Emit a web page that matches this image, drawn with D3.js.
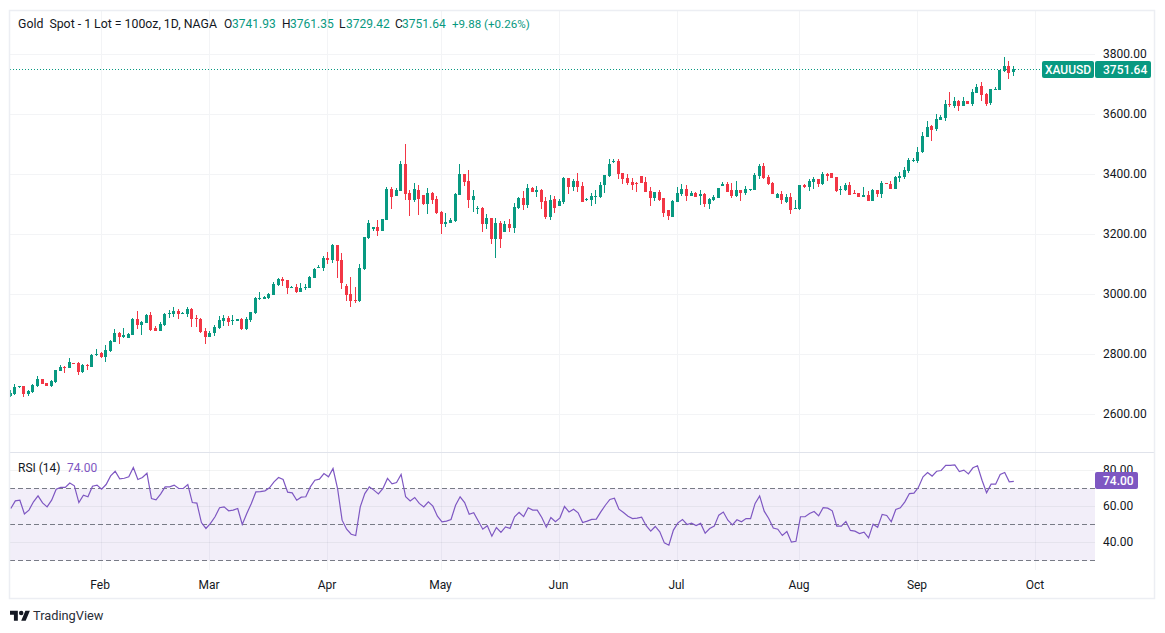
<!DOCTYPE html>
<html>
<head>
<meta charset="utf-8">
<style>
  html, body { margin: 0; padding: 0; background: #fff; }
  svg { display: block; }
  text { font-family: Roboto, sans-serif; }
  .domain { display: none; }
</style>
</head>
<body>
<svg id="chart" width="1165" height="633"></svg>
<script src="https://cdn.jsdelivr.net/npm/d3@7"></script>
<script>
"use strict";

// daily candles, one row per ten bars
var opens = [
  2660,2666,2690,2693,2666,2673,2693,2717,2703,2693,
  2706,2743,2758,2753,2770,2770,2740,2763,2757,2797,
  2803,2790,2810,2840,2870,2857,2853,2863,2917,2897,
  2903,2930,2887,2877,2897,2934,2934,2944,2934,2934,
  2950,2920,2917,2877,2857,2870,2887,2910,2920,2910,
  2910,2917,2883,2913,2937,2984,2984,2987,2997,3030,
  3050,3047,3020,3024,3007,3020,3020,3054,3087,3087,
  3121,3114,3164,3114,3027,3000,2980,2977,3084,3187,
  3217,3224,3211,3247,3351,3328,3344,3434,3338,3314,
  3348,3331,3301,3338,3318,3274,3234,3237,3244,3331,
  3401,3378,3314,3284,3288,3234,3254,3184,3237,3207,
  3234,3221,3288,3321,3298,3354,3341,3348,3311,3257,
  3317,3294,3307,3388,3358,3378,3361,3314,3314,3324,
  3324,3364,3394,3441,3444,3404,3388,3374,3371,3394,
  3374,3344,3321,3341,3321,3281,3257,3307,3334,3351,
  3327,3338,3327,3334,3301,3314,3321,3361,3368,3348,
  3327,3348,3338,3348,3348,3394,3428,3391,3371,3321,
  3334,3307,3324,3284,3284,3364,3358,3374,3384,3368,
  3401,3404,3391,3348,3348,3364,3338,3338,3324,3331,
  3311,3348,3334,3371,3368,3351,3388,3391,3411,3444,
  3444,3474,3524,3561,3551,3581,3588,3635,3628,3645,
  3628,3645,3635,3671,3695,3668,3638,3681,3681,3745,3762,3741.93
];
var highs = [
  2680,2699,2693,2693,2680,2700,2726,2717,2703,2713,
  2747,2763,2760,2787,2770,2773,2767,2767,2799,2817,
  2807,2830,2847,2883,2873,2887,2870,2922,2944,2910,
  2934,2940,2893,2907,2937,2947,2957,2950,2940,2957,
  2954,2930,2920,2887,2877,2897,2927,2930,2927,2930,
  2917,2920,2924,2940,2990,3007,2994,3004,3040,3054,
  3057,3047,3027,3034,3037,3034,3060,3087,3097,3127,
  3141,3167,3164,3137,3034,3057,3024,3101,3191,3247,
  3224,3247,3251,3358,3358,3354,3444,3501,3348,3371,
  3364,3331,3354,3341,3328,3278,3271,3254,3338,3434,
  3401,3414,3348,3294,3291,3267,3254,3254,3244,3244,
  3251,3304,3324,3344,3368,3358,3361,3351,3324,3331,
  3328,3317,3391,3388,3384,3404,3374,3321,3338,3348,
  3374,3398,3451,3451,3451,3404,3401,3388,3374,3394,
  3391,3358,3341,3348,3321,3281,3314,3358,3368,3364,
  3344,3341,3348,3338,3321,3331,3354,3374,3374,3371,
  3378,3348,3361,3351,3404,3434,3438,3398,3374,3338,
  3344,3334,3338,3314,3364,3368,3384,3391,3384,3408,
  3404,3404,3391,3361,3371,3374,3348,3338,3358,3344,
  3351,3348,3378,3371,3378,3394,3408,3424,3454,3454,
  3491,3541,3578,3565,3601,3598,3648,3675,3658,3648,
  3658,3645,3685,3701,3708,3671,3685,3691,3748,3792,3778,3761.35
];
var lows = [
  2657,2663,2686,2657,2661,2671,2691,2700,2693,2690,
  2703,2743,2737,2753,2767,2730,2737,2747,2757,2793,
  2787,2773,2807,2840,2833,2853,2853,2863,2883,2863,
  2903,2877,2877,2877,2893,2920,2924,2917,2934,2924,
  2890,2890,2870,2833,2857,2860,2883,2893,2893,2897,
  2910,2880,2880,2907,2934,2980,2984,2984,2997,3027,
  3027,3000,3020,3004,3007,3014,3020,3054,3087,3077,
  3101,3104,3054,3017,2977,2957,2970,2974,3081,3184,
  3211,3194,3211,3247,3284,3328,3344,3314,3261,3308,
  3264,3298,3267,3301,3267,3201,3224,3237,3241,3331,
  3361,3288,3274,3267,3207,3217,3167,3121,3154,3207,
  3207,3204,3284,3281,3288,3341,3324,3284,3251,3247,
  3271,3294,3301,3334,3344,3341,3307,3311,3294,3301,
  3321,3338,3391,3438,3384,3368,3364,3348,3341,3371,
  3341,3294,3311,3311,3257,3247,3257,3307,3327,3311,
  3327,3324,3297,3291,3284,3311,3321,3361,3341,3321,
  3324,3311,3331,3344,3348,3384,3384,3364,3334,3321,
  3301,3304,3267,3284,3281,3354,3344,3351,3358,3364,
  3378,3388,3341,3331,3344,3331,3334,3324,3324,3311,
  3311,3324,3321,3368,3351,3351,3374,3384,3404,3441,
  3438,3471,3524,3511,3545,3581,3578,3625,3621,3611,
  3628,3635,3628,3671,3645,3628,3631,3681,3681,3742,3718,3729.42
];
var closes = [
  2671,2690,2693,2666,2676,2696,2717,2700,2693,2710,
  2747,2757,2755,2773,2767,2740,2763,2761,2797,2800,
  2790,2813,2843,2870,2857,2863,2867,2917,2897,2907,
  2930,2880,2877,2900,2934,2937,2944,2934,2937,2950,
  2917,2917,2873,2857,2870,2890,2913,2920,2907,2913,
  2917,2883,2917,2940,2987,2987,2990,3000,3034,3050,
  3044,3020,3024,3007,3020,3024,3057,3084,3091,3121,
  3114,3164,3111,3037,2997,2977,2977,3087,3191,3237,
  3224,3211,3251,3351,3324,3348,3434,3334,3314,3351,
  3318,3301,3338,3314,3271,3234,3241,3247,3334,3401,
  3374,3314,3328,3288,3234,3254,3184,3237,3184,3234,
  3221,3291,3321,3298,3354,3341,3348,3308,3257,3314,
  3287,3311,3388,3358,3378,3358,3307,3317,3327,3327,
  3364,3398,3434,3444,3401,3384,3371,3364,3368,3371,
  3341,3321,3341,3314,3271,3261,3311,3338,3351,3327,
  3338,3324,3334,3301,3317,3324,3354,3368,3341,3327,
  3348,3338,3351,3351,3398,3428,3388,3368,3334,3334,
  3314,3324,3281,3287,3364,3358,3378,3384,3368,3401,
  3394,3388,3344,3351,3364,3331,3334,3324,3331,3311,
  3348,3334,3371,3368,3351,3391,3394,3414,3448,3448,
  3474,3528,3558,3548,3585,3591,3635,3631,3645,3628,
  3645,3635,3675,3691,3665,3635,3685,3685,3748,3762,3738,3751.64
];

var rsiValues = [
  58.9,63.1,63.5,55.9,58.0,62.6,65.9,62.0,59.8,63.5,
  69.6,70.6,70.6,73.0,71.5,62.2,66.3,65.4,71.3,71.9,
  69.6,72.2,77.0,79.6,75.4,75.7,76.5,81.7,75.0,76.1,
  78.5,64.4,63.7,66.9,70.9,70.9,71.9,70.0,70.0,72.2,
  62.2,61.9,51.1,47.8,50.6,54.3,59.3,59.8,57.6,58.0,
  58.9,50.0,56.1,61.7,68.1,68.3,68.7,70.4,73.7,76.1,
  75.0,68.0,67.6,63.5,65.2,65.4,70.9,74.6,75.2,78.3,
  76.5,81.1,70.0,52.4,47.4,44.6,43.9,59.8,67.2,70.9,
  69.1,67.0,70.0,75.6,72.6,73.3,77.8,
  65.4,63.1,65.0,61.7,59.8,62.6,60.2,54.6,51.5,51.9,
  52.8,60.7,65.4,62.2,55.7,56.5,51.9,47.4,49.3,43.5,
  48.3,45.6,48.7,47.8,54.3,56.7,54.4,59.3,58.0,58.0,
  53.9,48.5,53.9,51.5,53.7,60.0,57.0,58.5,56.5,51.1,
  51.9,52.8,53.0,57.0,60.7,63.9,64.6,58.5,56.7,54.6,
  53.3,53.5,54.1,49.3,46.3,48.9,45.9,39.8,38.5,46.9,
  50.9,52.8,50.0,50.7,49.4,50.6,45.2,47.8,49.1,55.2,
  56.9,52.4,49.8,52.6,51.5,53.3,53.3,61.7,65.9,57.4,
  53.3,48.0,47.4,43.9,46.1,40.2,40.7,54.3,
  54.3,56.1,57.2,54.8,59.4,59.1,57.6,49.1,49.1,51.7,
  46.7,46.3,45.0,45.7,42.6,50.2,48.5,55.6,55.0,51.5,
  58.3,59.3,62.6,67.2,67.4,70.7,76.5,78.9,76.9,79.6,
  80.0,82.8,82.8,83.1,79.4,80.2,78.1,81.5,82.6,74.6,
  67.6,72.4,72.4,77.8,78.9,73.7,74.0
];

var priceTicks = [2600, 2800, 3000, 3200, 3400, 3600, 3800];
var rsiTicks = [40, 60, 80];
var rsiBands = [30, 50, 70];
var monthLabels = ["Feb", "Mar", "Apr", "May", "Jun", "Jul", "Aug", "Sep", "Oct"];
var monthBars = [20, 44, 70, 95, 121, 147, 174, 200, 226];

var legendTitle = "Gold  Spot - 1 Lot = 100oz, 1D, NAGA";
var symbol = "XAUUSD";
var lastClose = 3751.64;
var lastRsi = 74.00;

var GREEN = "#089981", RED = "#f23645", PURPLE = "#7e57c2";
var GRID = "#f3f4f6", BORDER = "#eceef3", TEXT = "#131722";

var svg = d3.select("#chart");

// frame of the widget and right edge of the plot
var plotLeft = 10, plotRight = 1095, plotTop = 10, plotBottom = 598, gridBottom = 570;

var x = d3.scaleLinear().domain([0, 221]).range([10.3, 1013.3]);
var y = d3.scaleLinear().domain([2600, 3800]).range([414, 54.5]);
var rsiY = d3.scaleLinear().domain([30, 70]).range([560.5, 488.5]);

function crisp(v) { return Math.floor(v) + 0.5; }

svg.append("rect").attr("width", 1165).attr("height", 633).attr("fill", "#fff");

// vertical grid
svg.append("g").selectAll("line").data(monthBars).enter().append("line")
    .attr("x1", function(d) { return crisp(x(d)); })
    .attr("x2", function(d) { return crisp(x(d)); })
    .attr("y1", plotTop).attr("y2", gridBottom)
    .attr("stroke", GRID);

// horizontal grid, price pane
svg.append("g").selectAll("line").data(priceTicks).enter().append("line")
    .attr("x1", plotLeft).attr("x2", plotRight)
    .attr("y1", function(d) { return crisp(y(d)); })
    .attr("y2", function(d) { return crisp(y(d)); })
    .attr("stroke", GRID);

// rsi band and grid
svg.append("rect")
    .attr("x", plotLeft).attr("width", plotRight - plotLeft)
    .attr("y", rsiY(70)).attr("height", rsiY(30) - rsiY(70))
    .attr("fill", PURPLE).attr("fill-opacity", 0.1);

svg.append("g").selectAll("line").data(rsiTicks).enter().append("line")
    .attr("x1", plotLeft).attr("x2", plotRight)
    .attr("y1", function(d) { return crisp(rsiY(d)); })
    .attr("y2", function(d) { return crisp(rsiY(d)); })
    .attr("stroke", "#2a2e39").attr("stroke-opacity", 0.06);

svg.append("g").selectAll("line").data(rsiBands).enter().append("line")
    .attr("x1", plotLeft).attr("x2", plotRight)
    .attr("y1", function(d) { return crisp(rsiY(d)); })
    .attr("y2", function(d) { return crisp(rsiY(d)); })
    .attr("stroke", "#787b86")
    .attr("stroke-dasharray", "5,3");

// pane separator
svg.append("line")
    .attr("x1", plotLeft).attr("x2", 1155).attr("y1", 452.5).attr("y2", 452.5)
    .attr("stroke", "#e0e3eb");

// last price line
svg.append("line")
    .attr("x1", plotLeft).attr("x2", 1042)
    .attr("y1", Math.round(y(lastClose)) + 0.5).attr("y2", Math.round(y(lastClose)) + 0.5)
    .attr("stroke", GREEN).attr("stroke-dasharray", "1,2");

// candles, clipped to the plot
svg.append("clipPath").attr("id", "plot").append("rect")
    .attr("x", plotLeft).attr("y", plotTop).attr("width", plotRight - plotLeft).attr("height", gridBottom - plotTop);

var bars = d3.range(opens.length).map(function(i) {
    return {i: i, o: opens[i], h: highs[i], l: lows[i], c: closes[i]};
});
var candles = svg.append("g").attr("clip-path", "url(#plot)");

candles.selectAll(".wick").data(bars).enter().append("rect")
    .attr("class", "wick")
    .attr("x", function(d) { return Math.floor(x(d.i)); })
    .attr("width", 1)
    .attr("y", function(d) { return Math.round(y(d.h)); })
    .attr("height", function(d) { return Math.max(1, Math.round(y(d.l)) - Math.round(y(d.h))); })
    .attr("fill", function(d) { return d.c >= d.o ? GREEN : RED; });

candles.selectAll(".body").data(bars).enter().append("rect")
    .attr("class", "body")
    .attr("x", function(d) { return Math.floor(x(d.i)) - 1; })
    .attr("width", 3)
    .attr("y", function(d) { return Math.round(y(Math.max(d.o, d.c))); })
    .attr("height", function(d) {
        return Math.max(1, Math.round(y(Math.min(d.o, d.c))) - Math.round(y(Math.max(d.o, d.c))));
    })
    .attr("fill", function(d) { return d.c >= d.o ? GREEN : RED; });

// rsi line
var rsiLine = d3.line()
    .x(function(d, i) { return x(i) + 0.5; })
    .y(function(d) { return rsiY(d); });

svg.append("path").datum(rsiValues)
    .attr("d", rsiLine)
    .attr("fill", "none")
    .attr("stroke", PURPLE)
    .attr("stroke-width", 1.2)
    .attr("clip-path", "url(#plot)");

// axes
var priceAxis = d3.axisRight(y).tickValues(priceTicks).tickSize(0).tickPadding(8)
    .tickFormat(d3.format(".2f"));
var rsiAxis = d3.axisRight(rsiY).tickValues(rsiTicks).tickSize(0).tickPadding(8)
    .tickFormat(d3.format(".2f"));
var timeAxis = d3.axisBottom(x).tickValues(monthBars).tickSize(0).tickPadding(10)
    .tickFormat(function(d) { return monthLabels[monthBars.indexOf(d)]; });

function styleAxis(g) {
    g.selectAll("text").attr("fill", TEXT).style("font-family", "Roboto, sans-serif").style("font-size", "12px");
}
svg.append("g").attr("transform", "translate(" + plotRight + ",-0.5)").call(priceAxis).call(styleAxis);
svg.append("g").attr("transform", "translate(" + plotRight + ",-1)").call(rsiAxis).call(styleAxis);
svg.append("g").attr("transform", "translate(-1.5,570)").call(timeAxis).call(styleAxis);

// price tags on the axis
svg.append("rect").attr("x", 1042).attr("y", 61).attr("width", 52).attr("height", 17).attr("rx", 2).attr("fill", GREEN);
svg.append("rect").attr("x", 1095).attr("y", 61).attr("width", 56).attr("height", 17).attr("rx", 2).attr("fill", GREEN);
svg.append("text").attr("x", 1068).attr("y", 73.5).attr("text-anchor", "middle")
    .attr("fill", "#fff").attr("font-size", 12).attr("font-weight", 500).text(symbol);
svg.append("text").attr("x", 1103).attr("y", 73.5)
    .attr("fill", "#fff").attr("font-size", 12).attr("font-weight", 500).text(d3.format(".2f")(lastClose));

svg.append("rect").attr("x", 1095).attr("y", 472).attr("width", 43).attr("height", 17).attr("rx", 2).attr("fill", PURPLE);
svg.append("text").attr("x", 1103).attr("y", 484.5)
    .attr("fill", "#fff").attr("font-size", 12).attr("font-weight", 500).text(d3.format(".2f")(lastRsi));

// legend
var legend = svg.append("g").attr("font-size", 12);
legend.append("text").attr("x", 18).attr("y", 28).attr("fill", TEXT).attr("font-size", 12.3)
    .attr("xml:space", "preserve").text(legendTitle);

var ohlcLabels = ["O", "H", "L", "C"];
var ohlcValues = [opens[221], highs[221], lows[221], closes[221]];
var ohlcX = [224, 282, 339, 395];
var valueX = [232, 290, 346, 402];
ohlcLabels.forEach(function(label, i) {
    legend.append("text").attr("x", ohlcX[i]).attr("y", 28).attr("fill", TEXT).text(label);
    legend.append("text").attr("x", valueX[i]).attr("y", 28).attr("fill", GREEN).text(d3.format(".2f")(ohlcValues[i]));
});
legend.append("text").attr("x", 452).attr("y", 28).attr("fill", GREEN).attr("font-size", 11.6).text("+9.88 (+0.26%)");

legend.append("text").attr("x", 18).attr("y", 472).attr("fill", TEXT).text("RSI (14)");
legend.append("text").attr("x", 67).attr("y", 472).attr("fill", PURPLE).text(d3.format(".2f")(lastRsi));

// frame
svg.append("rect")
    .attr("x", plotLeft - 0.5).attr("y", plotTop + 0.5)
    .attr("width", 1155 - plotLeft).attr("height", plotBottom - plotTop)
    .attr("fill", "none").attr("stroke", BORDER).attr("stroke-width", 1.5);

// tradingview mark
var logo = svg.append("g").attr("transform", "translate(10,608.5) scale(0.56)").attr("fill", "#131722");
logo.append("path").attr("d", "M14 22H7V11H0V4h14v18zM28 22h-8l7.5-18h8L28 22z");
logo.append("circle").attr("cx", 20).attr("cy", 8).attr("r", 4);
svg.append("text").attr("x", 33).attr("y", 620).attr("fill", "#2a2e39").attr("font-size", 12.8).text("TradingView");
</script>
</body>
</html>
